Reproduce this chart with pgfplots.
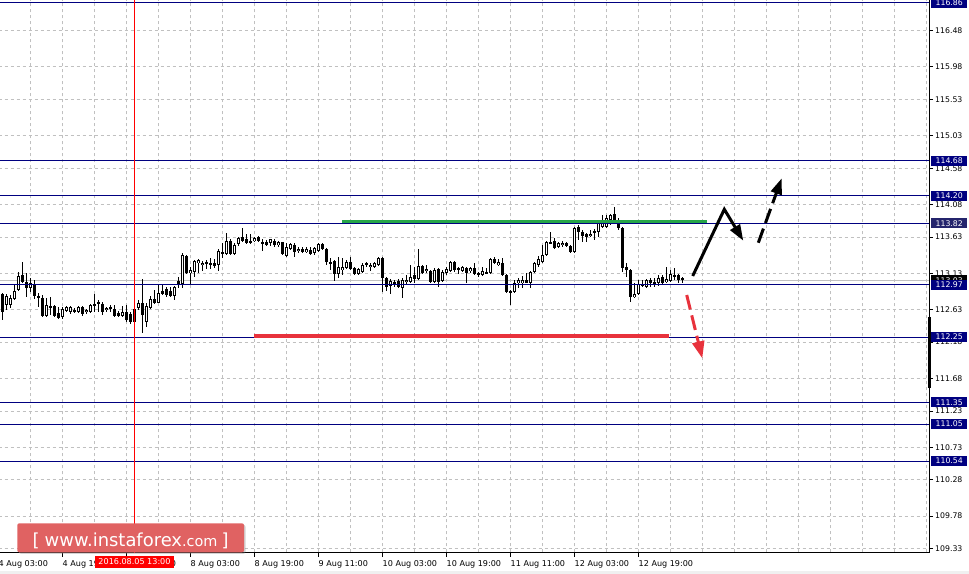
\documentclass[border=0pt]{standalone}
\usepackage{pgfplots}
\pgfplotsset{compat=1.18}
\usepackage{pgfplotstable}
\usepackage{fontspec}
\setmainfont{DejaVu Sans}
\usetikzlibrary{arrows.meta,shadows}

\definecolor{lvl}{RGB}{0,0,128}
\definecolor{lvlb}{RGB}{36,36,108}
\definecolor{gridc}{RGB}{192,192,192}
\definecolor{grn}{RGB}{38,165,72}
\definecolor{redl}{RGB}{232,50,60}
\definecolor{wmark}{RGB}{224,98,98}

% hourly bars USDJPY, k = bar index, o h l c
\pgfplotstableread{
k o h l c
0 112.844 112.858 112.485 112.595
1 112.692 112.844 112.623 112.816
2 112.692 112.830 112.651 112.789
3 112.775 112.968 112.761 112.885
4 112.899 113.147 112.885 113.092
5 113.106 113.285 112.995 113.009
6 113.009 113.134 112.803 112.927
7 112.927 113.065 112.872 112.996
8 112.968 113.037 112.775 112.816
9 112.816 112.858 112.664 112.789
10 112.789 112.830 112.526 112.540
11 112.540 112.789 112.526 112.692
12 112.678 112.803 112.554 112.651
13 112.678 112.692 112.526 112.540
14 112.582 112.664 112.499 112.513
15 112.526 112.664 112.499 112.637
16 112.609 112.678 112.595 112.664
17 112.595 112.678 112.568 112.664
18 112.623 112.651 112.582 112.595
19 112.595 112.678 112.582 112.664
20 112.664 112.678 112.540 112.568
21 112.595 112.637 112.568 112.623
22 112.595 112.706 112.582 112.692
23 112.706 112.844 112.595 112.678
24 112.734 112.761 112.595 112.706
25 112.706 112.734 112.554 112.595
26 112.623 112.664 112.595 112.651
27 112.664 112.692 112.595 112.637
28 112.637 112.692 112.526 112.540
29 112.582 112.609 112.526 112.540
30 112.540 112.678 112.526 112.595
31 112.595 112.692 112.458 112.485
32 112.568 112.595 112.430 112.458
33 112.637 112.651 112.444 112.458
34 112.651 112.761 112.623 112.720
35 112.720 113.051 112.306 112.554
36 112.458 112.720 112.389 112.678
37 112.651 112.816 112.637 112.775
38 112.775 112.899 112.706 112.720
39 112.720 112.968 112.720 112.858
40 112.885 112.968 112.830 112.844
41 112.913 112.941 112.803 112.830
42 112.885 112.941 112.803 112.816
43 112.816 112.954 112.761 112.941
44 113.023 113.078 112.927 112.968
45 112.982 113.410 112.927 113.382
46 113.368 113.382 113.120 113.134
47 113.134 113.216 112.982 113.175
48 113.147 113.313 113.078 113.299
49 113.272 113.327 113.134 113.313
50 113.244 113.299 113.161 113.272
51 113.285 113.313 113.189 113.272
52 113.272 113.341 113.189 113.244
53 113.272 113.327 113.203 113.230
54 113.244 113.465 113.161 113.437
55 113.423 113.548 113.341 113.396
56 113.396 113.686 113.382 113.575
57 113.575 113.603 113.382 113.396
58 113.396 113.548 113.382 113.520
59 113.534 113.630 113.506 113.617
60 113.630 113.755 113.561 113.575
61 113.603 113.672 113.534 113.548
62 113.548 113.672 113.534 113.575
63 113.575 113.630 113.561 113.617
64 113.630 113.644 113.561 113.575
65 113.561 113.603 113.437 113.548
66 113.561 113.589 113.506 113.520
67 113.548 113.603 113.506 113.603
68 113.575 113.603 113.492 113.520
69 113.520 113.575 113.492 113.561
70 113.561 113.561 113.382 113.396
71 113.368 113.548 113.355 113.492
72 113.465 113.548 113.451 113.534
73 113.520 113.548 113.355 113.423
74 113.437 113.492 113.410 113.465
75 113.465 113.492 113.410 113.423
76 113.423 113.492 113.410 113.465
77 113.451 113.492 113.382 113.396
78 113.410 113.492 113.382 113.479
79 113.437 113.548 113.423 113.534
80 113.534 113.548 113.451 113.465
81 113.465 113.479 113.244 113.285
82 113.285 113.341 113.175 113.272
83 113.299 113.313 113.023 113.120
84 113.120 113.355 113.065 113.216
85 113.175 113.341 113.106 113.216
86 113.203 113.313 113.189 113.285
87 113.285 113.355 113.175 113.189
88 113.203 113.216 113.106 113.120
89 113.120 113.203 113.106 113.189
90 113.147 113.272 113.134 113.244
91 113.272 113.285 113.216 113.244
92 113.216 113.272 113.161 113.244
93 113.216 113.285 113.203 113.272
94 113.244 113.355 113.230 113.341
95 113.341 113.355 112.872 113.065
96 113.065 113.078 112.885 112.941
97 112.954 113.051 112.844 113.023
98 113.009 113.037 112.941 112.996
99 113.023 113.051 112.927 112.941
100 112.927 113.065 112.789 113.037
101 113.009 113.106 112.968 113.037
102 113.009 113.244 112.996 113.078
103 113.106 113.216 112.996 113.051
104 113.051 113.465 113.037 113.230
105 113.230 113.244 113.120 113.134
106 113.161 113.244 113.134 113.189
107 113.161 113.175 112.996 113.009
108 113.009 113.203 112.996 113.175
109 113.189 113.203 112.941 113.009
110 113.023 113.175 113.009 113.147
111 113.134 113.216 113.106 113.189
112 113.161 113.299 113.147 113.285
113 113.285 113.299 113.147 113.175
114 113.203 113.216 113.120 113.175
115 113.161 113.230 113.147 113.216
116 113.203 113.216 112.996 113.134
117 113.161 113.216 113.134 113.203
118 113.203 113.272 113.106 113.120
119 113.134 113.147 113.078 113.120
120 113.106 113.216 113.092 113.161
121 113.134 113.203 113.120 113.147
122 113.134 113.341 113.120 113.327
123 113.327 113.355 113.258 113.272
124 113.244 113.327 113.230 113.285
125 113.272 113.341 113.092 113.106
126 113.106 113.120 112.858 112.872
127 112.858 112.899 112.692 112.885
128 112.872 113.037 112.858 112.996
129 112.996 113.065 112.927 113.037
130 112.996 113.092 112.927 113.037
131 113.037 113.134 112.996 112.996
132 112.996 113.161 112.927 113.147
133 113.147 113.285 113.134 113.272
134 113.244 113.368 113.216 113.327
135 113.285 113.520 113.272 113.382
136 113.382 113.575 113.368 113.561
137 113.561 113.699 113.534 113.548
138 113.575 113.617 113.465 113.479
139 113.492 113.561 113.479 113.548
140 113.520 113.575 113.492 113.548
141 113.548 113.561 113.492 113.506
142 113.506 113.520 113.410 113.423
143 113.423 113.768 113.410 113.755
144 113.768 113.796 113.589 113.699
145 113.699 113.727 113.561 113.644
146 113.672 113.686 113.561 113.630
147 113.644 113.727 113.630 113.672
148 113.686 113.741 113.589 113.713
149 113.699 113.851 113.630 113.823
150 113.768 113.934 113.755 113.851
151 113.768 113.934 113.755 113.892
152 113.865 113.948 113.796 113.934
153 113.948 114.044 113.837 113.851
154 113.851 113.892 113.727 113.755
155 113.755 113.768 113.147 113.203
156 113.216 113.272 113.078 113.175
157 113.175 113.189 112.734 112.803
158 112.803 112.996 112.789 112.844
159 112.844 113.037 112.830 112.982
160 112.982 113.037 112.941 112.954
161 112.941 113.051 112.927 113.037
162 113.037 113.065 112.941 112.996
163 112.982 113.065 112.941 113.009
164 112.996 113.106 112.954 113.065
165 113.078 113.106 112.968 112.996
166 113.009 113.216 112.996 113.051
167 113.023 113.175 113.009 113.120
168 113.106 113.203 113.037 113.078
169 113.106 113.120 112.996 113.037
170 113.065 113.078 112.996 113.037
}\candles

\begin{document}
\begin{tikzpicture}
\useasboundingbox (0,0) rectangle (969bp,574bp);
\fill[black!6] (0,0) rectangle (969bp,3bp);
\begin{axis}[
  at={(-1.5bp,21.5bp)}, anchor=south west,
  scale only axis, width=930.5bp, height=552.5bp,
  xmin=-1.5, xmax=929, ymin=109.2775, ymax=116.9014,
  axis x line*=bottom, axis y line*=right,
  axis line style={black, line width=1bp, -},
  tick align=outside, major tick length=4bp, minor tick length=0pt,
  tick style={black, line width=1bp},
  xtick={-1.5,62.5,...,638.5},
  xticklabels={4 Aug 03:00,4 Aug 19:00,5 Aug 11:00,8 Aug 03:00,8 Aug 19:00,9 Aug 11:00,10 Aug 03:00,10 Aug 19:00,11 Aug 11:00,12 Aug 03:00,12 Aug 19:00},
  minor xtick={30.5,62.5,...,926.5},
  ytick={109.33,109.78,110.28,110.73,111.23,111.68,112.18,112.63,113.13,113.63,114.08,114.58,115.03,115.53,115.98,116.48},
  yticklabels={109.33,109.78,110.28,110.73,111.23,111.68,112.18,112.63,113.13,113.63,114.08,114.58,115.03,115.53,115.98,116.48},
  xmajorgrids, xminorgrids, ymajorgrids,
  major grid style={gridc, line width=1bp, dash pattern=on 3bp off 3bp},
  minor grid style={gridc, line width=1bp, dash pattern=on 3bp off 3bp},
  xticklabel style={anchor=north west, inner xsep=0pt, font=\fontsize{8.1}{9}\selectfont},
  yticklabel style={anchor=west, inner xsep=2pt, font=\fontsize{7.8}{9}\selectfont},
  clip=false,
]
% bid line
\addplot[gridc, line width=1bp, forget plot] coordinates {(-1.5,113.031) (929,113.031)};

% wicks
\addplot[draw=none, mark=none, forget plot,
  error bars/.cd, y dir=both, y explicit, error mark=none,
  error bar style={draw=black, solid, line width=1bp}]
  table[x expr=4*\thisrow{k}+2.5, y expr=(\thisrow{h}+\thisrow{l})/2,
        y error expr=(\thisrow{h}-\thisrow{l})/2] {\candles};
% bodies
\addplot[draw=none, mark=none, forget plot,
  error bars/.cd, y dir=both, y explicit, error mark=none,
  error bar style={draw=black, solid, line width=3bp}]
  table[x expr=4*\thisrow{k}+2.5, y expr=(\thisrow{o}+\thisrow{c})/2,
        y error expr={max(abs(\thisrow{c}-\thisrow{o})/2,0.007)}] {\candles};
% hollow inside of rising bars
\addplot[draw=none, mark=none, forget plot,
  error bars/.cd, y dir=both, y explicit, error mark=none,
  error bar style={draw=white, solid, line width=1bp}]
  table[x expr=4*\thisrow{k}+2.5, y expr=(\thisrow{o}+\thisrow{c})/2,
        y error expr={max((\thisrow{c}-\thisrow{o})/2-0.0138,0)}] {\candles};

% levels
\addplot[lvl, line width=1bp] coordinates {(-1.5,116.86) (929,116.86)};
\addplot[lvl, line width=1bp] coordinates {(-1.5,114.68) (929,114.68)};
\addplot[lvl, line width=1bp] coordinates {(-1.5,114.20) (929,114.20)};
\addplot[lvl, line width=1bp] coordinates {(-1.5,113.82) (929,113.82)};
\addplot[lvl, line width=1bp] coordinates {(-1.5,112.97) (929,112.97)};
\addplot[lvl, line width=1bp] coordinates {(-1.5,112.25) (929,112.25)};
\addplot[lvl, line width=1bp] coordinates {(-1.5,111.35) (929,111.35)};
\addplot[lvl, line width=1bp] coordinates {(-1.5,111.05) (929,111.05)};
\addplot[lvl, line width=1bp] coordinates {(-1.5,110.54) (929,110.54)};

% resistance / support
\addplot[grn, line width=3.5bp] coordinates {(342,113.845) (706.5,113.845)};
\addplot[redl, line width=3.7bp] coordinates {(254,112.265) (669,112.265)};

% marker at 2016.08.05 13:00
\addplot[red, line width=1bp] coordinates {(134.5,109.2775) (134.5,116.9014)};

% scenario arrows
\addplot[black, line width=3bp, miter limit=10, -{Triangle[length=16bp,width=11bp]}]
  coordinates {(692.7,113.093) (724.3,114.013) (743.3,113.580)};
\addplot[black, line width=3bp, dash pattern=on 15bp off 6bp, -{Triangle[length=16bp,width=11bp]}]
  coordinates {(758.3,113.552) (781.7,114.441)};
\addplot[redl, line width=3bp, dash pattern=on 15bp off 6bp, -{Triangle[length=17bp,width=12bp]}]
  coordinates {(686.7,112.831) (702.3,111.957)};

% spread bar on the price scale
\addplot[black, line width=3bp] coordinates {(929.7,112.527) (929.7,111.547)};

\coordinate (L1) at (axis cs:929,116.86);
\coordinate (L2) at (axis cs:929,114.68);
\coordinate (L3) at (axis cs:929,114.20);
\coordinate (L4) at (axis cs:929,113.82);
\coordinate (L5) at (axis cs:929,112.97);
\coordinate (L6) at (axis cs:929,112.25);
\coordinate (L7) at (axis cs:929,111.35);
\coordinate (L8) at (axis cs:929,111.05);
\coordinate (L9) at (axis cs:929,110.54);
\coordinate (BID) at (axis cs:929,113.031);
\coordinate (RED) at (axis cs:134.5,109.2775);
\end{axis}

\tikzset{lbl/.style={anchor=west, fill=lvl, text=white, inner sep=0pt,
  minimum width=36bp, minimum height=10bp, font=\fontsize{7.8}{9}\selectfont}}
\node[lbl, fill=black] at ([xshift=2bp]BID) {113.03};
\node[lbl] at ([xshift=2bp]L1) {116.86};
\node[lbl] at ([xshift=2bp]L2) {114.68};
\node[lbl] at ([xshift=2bp]L3) {114.20};
\node[lbl, fill=lvlb] at ([xshift=2bp]L4) {113.82};
\node[lbl] at ([xshift=2bp]L5) {112.97};
\node[lbl] at ([xshift=2bp]L6) {112.25};
\node[lbl] at ([xshift=2bp]L7) {111.35};
\node[lbl] at ([xshift=2bp]L8) {111.05};
\node[lbl] at ([xshift=2bp]L9) {110.54};

% time of the marker
\node[anchor=north, fill=red, text=white, inner sep=0pt, minimum width=79bp,
  minimum height=11.6bp, font=\fontsize{8.1}{9}\selectfont]
  at ([yshift=-3.4bp]RED) {2016.08.05 13:00};

% watermark
\fill[wmark, rounded corners=2bp, drop shadow={opacity=0.35, shadow xshift=1.5bp, shadow yshift=-1.5bp}]
  (17.3bp,21.7bp) rectangle (244bp,50.7bp);
\node[text=white, inner sep=0pt] at (130.6bp,33.5bp)
  {\fontsize{18}{18}\selectfont[\hspace{5bp}www.instaforex\fontsize{14.5}{14.5}\selectfont.com\hspace{4bp}\fontsize{18}{18}\selectfont]};
\end{tikzpicture}
\end{document}
